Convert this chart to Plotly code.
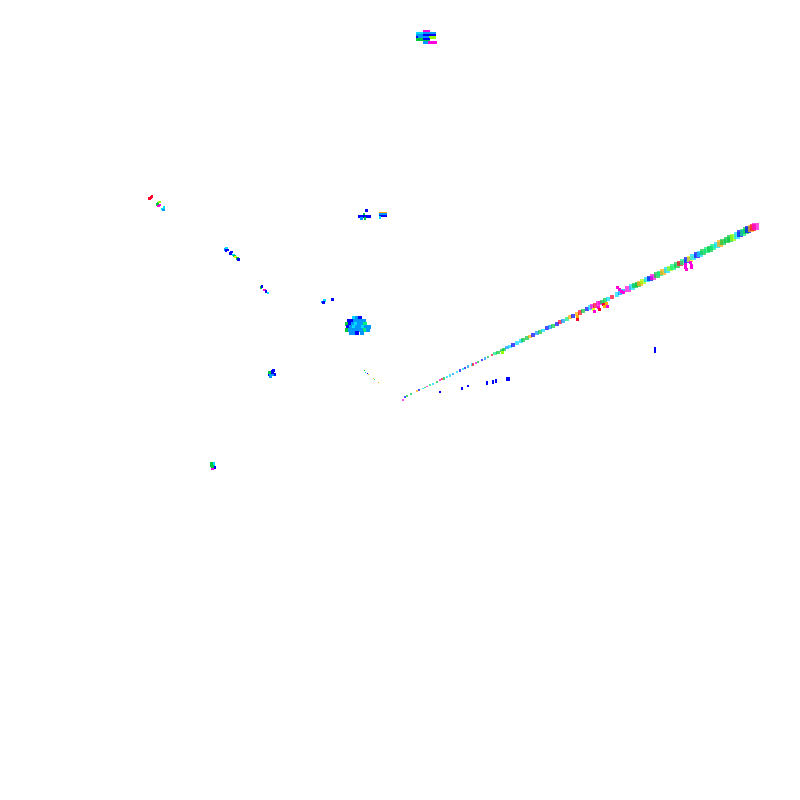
import plotly.graph_objects as go

palette = {"b": "#0000ff", "a": "#0096ff", "c": "#00dcff", "s": "#00f078", "g": "#00c83c",
           "l": "#96ff00", "y": "#f0ff00", "o": "#ffaa00", "r": "#ff0028", "m": "#ff00dc"}

line_x = [403,405,407,411,417,419,423,425,427,430,433,437,440,442,444,447,450,453,457,460,463,465,468,472,473,476,478,482,485,488,492,495,498,502,504,507,510,513,517,
          521,523,527,530,533,537,540,543,547,550,553,557,560,563,567,570,573,577,580,583,587,590,592,595,598,
          600,602,605,608,612,617,620,623,628,632,635,638,640,643,647,650,653,657,660,663,667,670,673,677,680,683,687,690,693,697,700,703,707,710,713,717,720,723,727,730,733,737,740,743,746,748,751,753,755]
line_y = [400,397,396,394,391,390,388.5,387.5,386.5,385,383.7,381.7,380.3,379.3,378.4,377,375.5,374,372,370.6,369.2,368.2,366.7,364.8,364.3,362.9,361.9,360,358.5,357,355,353.7,352.2,350.3,349.3,347.9,346.5,345,343,
          341,340,338.2,336.7,335.2,333.3,331.8,330.4,328.4,327,325.6,323.6,322.2,320.8,318.8,317.4,315.9,314,312.5,311,309.1,307.7,306.7,305.3,303.8,
          303,302,300.5,299,297,294.6,293,291.6,289,287,285.7,284.2,283.2,281.8,279.8,278.3,276.8,274.8,273.4,271.9,269.9,268.4,266.9,265,263.5,262,260,258.5,257.1,255.1,253.6,252.1,250.1,248.7,247.2,245.2,243.7,242.2,240.2,238.8,237.3,235.3,233.8,232.3,230.9,229.9,228.4,227.4,226.5]
line_k = list("mbggobcgm" "scgmrgcca" "cbcbacrmg" "bagrsgggac" "bc" "cggobagcbagbrasoborgbcmrm"
              "mggcrcaamcggolcbmgsocls" "grsbycbcgsgscoggglcbsgbormbb")
line_k = (line_k + ["b"] * len(line_x))[:len(line_x)]

side_x = [502,577,577,593,594,598,599,603,604,606,607,617,619,621,623,685,685,686,690,691,691]
side_y = [352,316,319,309,311,307,309,304,306,303,306,287,289,291,292,264,267,269,262,265,267]
side_k = list("lorym" "mrroomm" "mmmm" "mmmmmm")[:len(side_x)]

stray_x = [440,462,462,468,487,487,493,493,496,496,655,655,655]
stray_y = [392,387.5,389,386,382,384,381,382.5,380,381.5,348,350,352]
stray_k = list("bbbbbbbbbbbbb")
stray2_x = [508]
stray2_y = [379]
stray2_k = ["b"]

top_x = [424,426,428, 417,419,421,424,426,428,430,432,434, 417,419,421,424,426,428,430,432,434,
         417,419,421,424,426,428,430,432,434, 417,419,421,424,426,428, 424,426,428, 424,426,428,429,431,433,435]
top_y = [31.5,31.5,31.5, 33,33,33,33,33,33,33,33,33, 35,35,35,35,35,35,35,35,35,
         37,37,37,37,37,37,37,37,37, 39,39,39,39,39,39, 41,41,41, 42.5,42.5,42.5,42.5,42.5,42.5,42.5]
top_k = list("mmm" "cccaaaaaa" "aaabbbbbb" "baaaaalll" "gggbbb" "ggg" "aaammmm")

cuts_x = [149.5,151,152, 157,158,159.3,160,158.5, 164,162.7,163.5,
          225.3,226.7,227.3,226, 230.7,231.7,233.3,234.3,235.7,237.3,238.7,
          261,262,264.7,266,268]
cuts_y = [198.5,197.5,196.5, 204.5,203.3,202,205,206, 207.3,209,210,
          249.3,248,250,250.7, 253.3,252,255,256,257,258.7,259.3,
          287.7,286.7,290,291.3,293]
cuts_k = list("rrr" "gglmm" "cca" "acbb" "bbcgygb" "gbmbc")

near_x = [366.7,364,359.5,361.5,363.5,365.5,367.5,369.5,361.7,365,
          380,382,384,386,380,382,384,386,380,382,384,386,380,
          324.3,322.5,323.3,332.3]
near_y = [210.3,214.3,216.7,216.7,216.7,216.7,216.7,216.7,218.3,218.3,
          213.3,213.3,213.3,213.3,214.6,214.6,214.6,214.6,215.8,215.8,215.8,215.8,217.3,
          300.7,302,302.5,299.3]
near_k = list("bgbbbbbbag" "oooo" "aaaa" "bbbb" "c" "cabb")

blob_x = [354,357,360, 349,352,355,358,361,364, 347,350,353,356,359,362,365,
          348,351,354,357,360,363,366,369, 347,350,353,356,359,362,365,368, 351,353,357,362]
blob_y = [318,318,318, 321,321,321,321,321,321, 324,324,324,324,324,324,324,
          327,327,327,327,327,327,327,327, 330,330,330,330,330,330,330,330, 332.5,332.5,332.5,332.5]
blob_k = list("cab" "bbaaaa" "gbacaas" "bacaacaa" "gaaaaasa" "aaba")

left_x = [273.3,269.3,270.7,274,272,270,272.5]
left_y = [370.7,374.3,376,374.3,374,372.7,372]
left_k = list("bbabagb")

dots_x = [364.3,365.7,367.3,368.3,373.3,374.3,378.3]
dots_y = [370.3,372.3,373.3,374.3,378.3,379.3,382.3]
dots_k = list("gcbooso")

low_x = [213.3,211.3,214,212.3,212.7,211.5]
low_y = [464,465.3,467.7,468.7,466.7,463.5]
low_k = list("cgbmgg")

fig = go.Figure()


def add(xs, ys, ks, size):
    fig.add_trace(go.Scatter(
        x=xs, y=ys, mode="markers", hoverinfo="skip",
        marker=dict(symbol="square", size=size, color=[palette[k] for k in ks], line=dict(width=0)),
    ))


line_sizes = [1.6 + 5.4 * max(0, x - 403) / 352 for x in line_x]
add(line_x, line_y, line_k, line_sizes)
add(side_x, side_y, side_k, 3)
add(stray_x, stray_y, stray_k, 2)
add(stray2_x, stray2_y, stray2_k, 3.5)
add(top_x, top_y, top_k, 3)
add(cuts_x, cuts_y, cuts_k, 2.8)
add(near_x, near_y, near_k, 2.6)
add(blob_x, blob_y, blob_k, 4)
add(left_x, left_y, left_k, 3.5)
add(dots_x, dots_y, dots_k, 1.5)
add(low_x, low_y, low_k, 3.4)

fig.update_layout(
    width=800, height=800, margin=dict(l=0, r=0, t=0, b=0), showlegend=False,
    paper_bgcolor="white", plot_bgcolor="white",
    xaxis=dict(range=[0, 800], visible=False),
    yaxis=dict(range=[800, 0], visible=False),
)
fig.write_html(
    "out.html",
    post_script="document.body.style.margin='0';"
                "document.querySelectorAll('path.point').forEach(function(p){p.style.shapeRendering='crispEdges';});",
    config={"displayModeBar": False},
)
